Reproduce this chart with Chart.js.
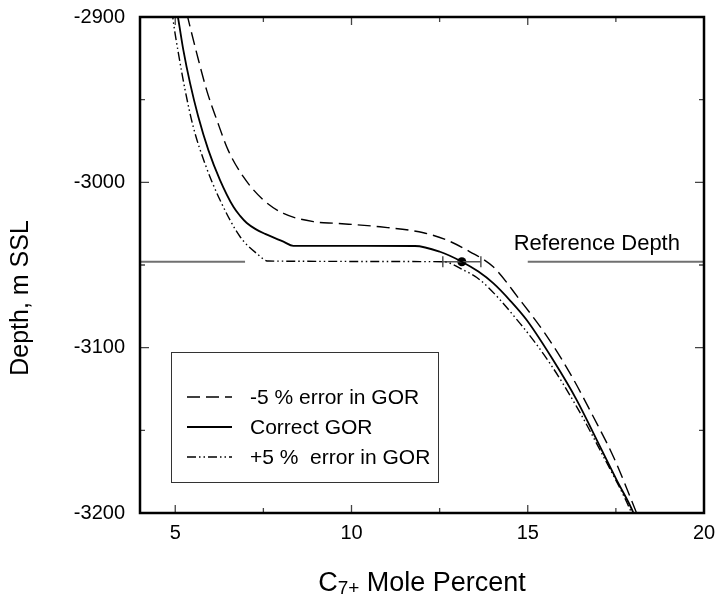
<!DOCTYPE html>
<html>
<head>
<meta charset="utf-8">
<script src="https://cdn.jsdelivr.net/npm/chart.js@4.4.1/dist/chart.umd.min.js"></script>
<style>
    body { margin: 0; background: #fff; }
    #wrap { width: 718px; height: 601px; }
</style>
</head>
<body>
<div id="wrap"><canvas id="depthChart" width="718" height="601"></canvas></div>
<script>
// Correct GOR curve
const solidX = [5.05, 5.09, 5.23, 5.42, 5.65, 5.94, 6.27, 6.65, 6.84, 7.03, 7.28, 7.55, 8.07, 8.35, 11.80, 12.51, 13.13, 13.6, 14.02, 14.5, 14.97, 15.72, 16.39, 16.96, 17.52, 18.0, 18.05];
const solidY = [-2897, -2901.8, -2920, -2940, -2960, -2980.5, -2998.6, -3014.8, -3020.3, -3024.6, -3028.3, -3031.2, -3035.9, -3038.4, -3038.5, -3042, -3048, -3054, -3061, -3071.5, -3083.3, -3107.5, -3131.7, -3155.9, -3180, -3200, -3203];

// -5 % error in GOR
const minusX = [5.33, 5.40, 5.61, 5.89, 6.18, 6.50, 6.93, 7.50, 8.07, 8.92, 9.58, 10.81, 12.04, 12.70, 13.36, 14.02, 14.78, 15.54, 16.20, 16.86, 17.43, 18.09, 18.14];
const minusY = [-2898, -2904.2, -2922, -2944.2, -2962.3, -2980.5, -2996.6, -3010.7, -3018.8, -3023.8, -3024.8, -3026.9, -3030.5, -3034.9, -3042, -3051.1, -3071.2, -3093, -3115.5, -3141.8, -3166, -3200.2, -3203];

// +5 % error in GOR
const plusX = [4.91, 4.94, 5.09, 5.28, 5.51, 5.84, 6.27, 6.84, 7.31, 7.64, 12.60, 13.17, 13.65, 14.78, 15.63, 16.39, 17.05, 17.95, 18.0];
const plusY = [-2896, -2901.8, -2922, -2944.2, -2966.4, -2988.5, -3010.7, -3032.9, -3043, -3047.6, -3048, -3053, -3059.1, -3085.3, -3109.5, -3135.8, -3161.9, -3200.2, -3203];

// reference depth, its line pieces, error bar and measured point
const refDepth = -3048;
const refLeftX = [4, 6.98];
const refRightX = [15.0, 20];
const refLabel = 'Reference Depth';
const refLabelX = 14.6;
const errX = [12.59, 13.67];
const errCap = 3.3;
const pointX = 13.13;

// axes
const xTicks = [5, 10, 15, 20];
const xMinor = [7.5, 12.5, 17.5];
const yTicks = [-2900, -3000, -3100, -3200];
const yMinor = [-2950, -3050, -3150];
const yTitle = 'Depth, m SSL';

const legendLabels = ['-5 % error in GOR', 'Correct GOR', '+5 %  error in GOR'];

const FONT = '"Liberation Sans", Arial, sans-serif';

function pts(xs, ys) {
    return xs.map((x, i) => ({ x: x, y: ys[i] }));
}

function flat(xs, y) {
    return xs.map(x => ({ x: x, y: y }));
}

const curveStyle = {
    borderColor: '#000',
    pointRadius: 0,
    fill: false,
    cubicInterpolationMode: 'monotone'
};

const datasets = [
    Object.assign({ label: legendLabels[0], data: pts(minusX, minusY), borderWidth: 1.4, borderDash: [13, 6] }, curveStyle),
    Object.assign({ label: legendLabels[1], data: pts(solidX, solidY), borderWidth: 1.8, borderDash: [] }, curveStyle),
    Object.assign({ label: legendLabels[2], data: pts(plusX, plusY), borderWidth: 1.4, borderDash: [9, 3, 1.5, 3, 1.5, 3] }, curveStyle),
    { data: flat(refLeftX, refDepth), borderColor: '#707070', borderWidth: 2, pointRadius: 0, tension: 0 },
    { data: flat(refRightX, refDepth), borderColor: '#707070', borderWidth: 2, pointRadius: 0, tension: 0 },
    { data: flat(errX, refDepth), borderColor: '#555', borderWidth: 1.5, pointRadius: 0, tension: 0 },
    { data: [{ x: errX[0], y: refDepth + errCap }, { x: errX[0], y: refDepth - errCap }], borderColor: '#555', borderWidth: 1.5, pointRadius: 0, tension: 0 },
    { data: [{ x: errX[1], y: refDepth + errCap }, { x: errX[1], y: refDepth - errCap }], borderColor: '#555', borderWidth: 1.5, pointRadius: 0, tension: 0 },
    { data: [{ x: pointX, y: refDepth }], showLine: false, pointRadius: 4.5, pointBackgroundColor: '#000', pointBorderColor: '#000', borderWidth: 0 }
];

// frame, inward ticks, titles, legend box and reference text
const decor = {
    id: 'decor',
    afterDatasetsDraw(chart) {
        const ctx = chart.ctx;
        const a = chart.chartArea;
        const xs = chart.scales.x, ys = chart.scales.y;
        ctx.save();

        // ticks
        ctx.strokeStyle = '#444';
        ctx.lineWidth = 1.3;
        const tick = (vals, len) => {
            vals.forEach(v => {
                const px = xs.getPixelForValue(v);
                ctx.beginPath();
                ctx.moveTo(px, a.bottom); ctx.lineTo(px, a.bottom - len);
                ctx.moveTo(px, a.top); ctx.lineTo(px, a.top + len);
                ctx.stroke();
            });
        };
        const ytick = (vals, len) => {
            vals.forEach(v => {
                const py = ys.getPixelForValue(v);
                ctx.beginPath();
                ctx.moveTo(a.left, py); ctx.lineTo(a.left + len, py);
                ctx.moveTo(a.right, py); ctx.lineTo(a.right - len, py);
                ctx.stroke();
            });
        };
        tick(xTicks, 8); tick(xMinor, 5);
        ytick(yTicks, 9); ytick(yMinor, 5);

        // frame
        ctx.strokeStyle = '#000';
        ctx.lineWidth = 2.5;
        ctx.strokeRect(a.left, a.top, a.right - a.left, a.bottom - a.top);

        // legend
        ctx.fillStyle = '#fff';
        ctx.fillRect(171.5, 352.5, 267, 130);
        ctx.strokeStyle = '#333';
        ctx.lineWidth = 1;
        ctx.strokeRect(171.5, 352.5, 267, 130);
        const rows = [397, 427, 457];
        ctx.font = '21px ' + FONT;
        ctx.textBaseline = 'middle';
        ctx.textAlign = 'left';
        for (let i = 0; i < 3; i++) {
            const ds = chart.data.datasets[i];
            ctx.strokeStyle = '#000';
            ctx.lineWidth = ds.borderWidth;
            ctx.setLineDash(ds.borderDash);
            ctx.beginPath();
            ctx.moveTo(187, rows[i]); ctx.lineTo(232, rows[i]);
            ctx.stroke();
            ctx.setLineDash([]);
            ctx.fillStyle = '#000';
            ctx.fillText(ds.label, 250, rows[i] + 1);
        }

        // reference depth label
        ctx.font = '22px ' + FONT;
        ctx.fillText(refLabel, xs.getPixelForValue(refLabelX), ys.getPixelForValue(refDepth) - 18);

        // y title
        ctx.save();
        ctx.translate(21, 298);
        ctx.rotate(-Math.PI / 2);
        ctx.textAlign = 'center';
        ctx.font = '25px ' + FONT;
        ctx.fillText(yTitle, 0, 0);
        ctx.restore();

        // x title with subscript
        const big = '27px ' + FONT, small = '19px ' + FONT;
        ctx.textBaseline = 'alphabetic';
        ctx.font = big;
        const w1 = ctx.measureText('C').width;
        const w3 = ctx.measureText(' Mole Percent').width;
        ctx.font = small;
        const w2 = ctx.measureText('7+').width;
        let tx = (a.left + a.right) / 2 - (w1 + w2 + w3) / 2;
        const base = 591;
        ctx.font = big; ctx.fillText('C', tx, base); tx += w1;
        ctx.font = small; ctx.fillText('7+', tx, base + 3); tx += w2;
        ctx.font = big; ctx.fillText(' Mole Percent', tx, base);

        ctx.restore();
    }
};

function noPad(s) {
    s.paddingTop = 0;
    s.paddingBottom = 0;
    s.paddingLeft = 0;
    s.paddingRight = 0;
}

const chart = new Chart(document.getElementById('depthChart').getContext('2d'), {
    type: 'line',
    data: { datasets: datasets },
    options: {
        responsive: false,
        animation: false,
        events: [],
        layout: { padding: { top: 17, right: 14, left: 0, bottom: 0 } },
        plugins: { legend: { display: false }, tooltip: { enabled: false } },
        scales: {
            x: {
                type: 'linear',
                min: 4,
                max: 20,
                grid: { display: false, drawTicks: false },
                border: { display: false },
                ticks: { font: { family: FONT, size: 20 }, color: '#000', padding: 8, autoSkip: false, maxRotation: 0 },
                afterBuildTicks: s => { s.ticks = xTicks.map(v => ({ value: v })); },
                afterFit: s => { s.height = 88; noPad(s); }
            },
            y: {
                type: 'linear',
                min: -3200,
                max: -2900,
                grid: { display: false, drawTicks: false },
                border: { display: false },
                ticks: { font: { family: FONT, size: 20 }, color: '#000', padding: 15, autoSkip: false, callback: v => String(v) },
                afterBuildTicks: s => { s.ticks = yTicks.map(v => ({ value: v })); },
                afterFit: s => { s.width = 140; noPad(s); }
            }
        }
    },
    plugins: [decor]
});
</script>
</body>
</html>
